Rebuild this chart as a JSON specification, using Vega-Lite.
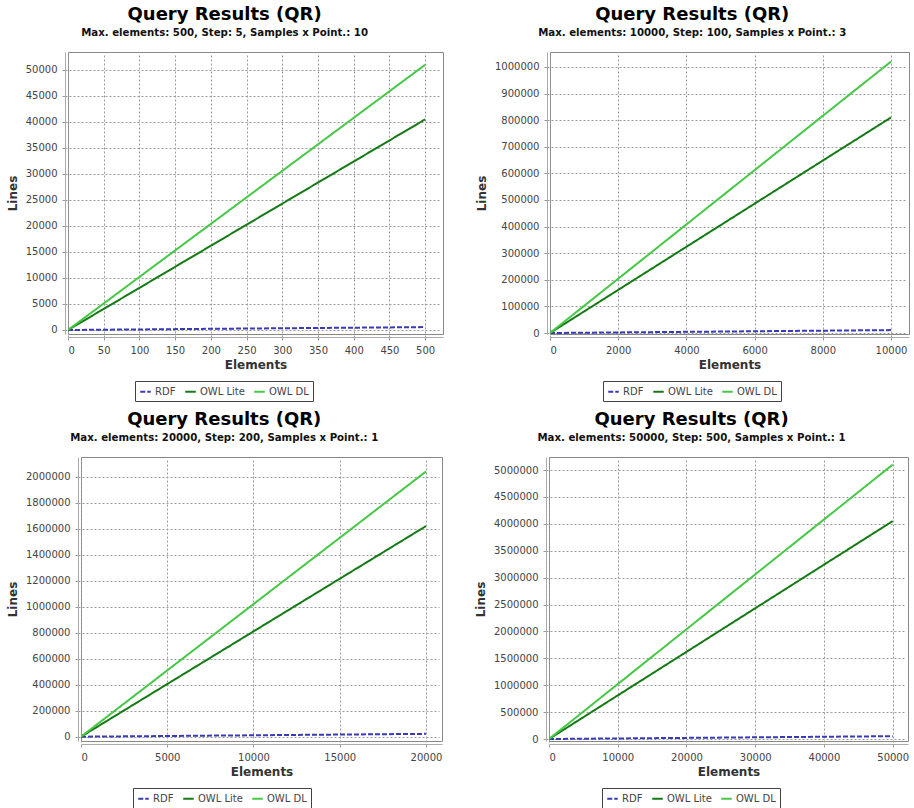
{
  "$schema": "https://vega.github.io/schema/vega-lite/v6.json",
  "padding": {"left": 5, "top": 5, "right": 4, "bottom": 0},
  "background": "white",
  "datasets": {
    "qr": [
      {"panel": 1, "elements": 0, "series": "RDF", "lines": 0},
      {"panel": 1, "elements": 100, "series": "RDF", "lines": 110},
      {"panel": 1, "elements": 200, "series": "RDF", "lines": 225},
      {"panel": 1, "elements": 300, "series": "RDF", "lines": 335},
      {"panel": 1, "elements": 400, "series": "RDF", "lines": 445},
      {"panel": 1, "elements": 500, "series": "RDF", "lines": 560},
      {"panel": 1, "elements": 0, "series": "OWL Lite", "lines": 0},
      {"panel": 1, "elements": 100, "series": "OWL Lite", "lines": 8100},
      {"panel": 1, "elements": 200, "series": "OWL Lite", "lines": 16200},
      {"panel": 1, "elements": 300, "series": "OWL Lite", "lines": 24300},
      {"panel": 1, "elements": 400, "series": "OWL Lite", "lines": 32400},
      {"panel": 1, "elements": 500, "series": "OWL Lite", "lines": 40500},
      {"panel": 1, "elements": 0, "series": "OWL DL", "lines": 0},
      {"panel": 1, "elements": 100, "series": "OWL DL", "lines": 10200},
      {"panel": 1, "elements": 200, "series": "OWL DL", "lines": 20400},
      {"panel": 1, "elements": 300, "series": "OWL DL", "lines": 30600},
      {"panel": 1, "elements": 400, "series": "OWL DL", "lines": 40800},
      {"panel": 1, "elements": 500, "series": "OWL DL", "lines": 51000},
      {"panel": 2, "elements": 0, "series": "RDF", "lines": 0},
      {"panel": 2, "elements": 2000, "series": "RDF", "lines": 2200},
      {"panel": 2, "elements": 4000, "series": "RDF", "lines": 4400},
      {"panel": 2, "elements": 6000, "series": "RDF", "lines": 6600},
      {"panel": 2, "elements": 8000, "series": "RDF", "lines": 8800},
      {"panel": 2, "elements": 10000, "series": "RDF", "lines": 11000},
      {"panel": 2, "elements": 0, "series": "OWL Lite", "lines": 0},
      {"panel": 2, "elements": 2000, "series": "OWL Lite", "lines": 162000},
      {"panel": 2, "elements": 4000, "series": "OWL Lite", "lines": 324000},
      {"panel": 2, "elements": 6000, "series": "OWL Lite", "lines": 486000},
      {"panel": 2, "elements": 8000, "series": "OWL Lite", "lines": 648000},
      {"panel": 2, "elements": 10000, "series": "OWL Lite", "lines": 810000},
      {"panel": 2, "elements": 0, "series": "OWL DL", "lines": 0},
      {"panel": 2, "elements": 2000, "series": "OWL DL", "lines": 204000},
      {"panel": 2, "elements": 4000, "series": "OWL DL", "lines": 408000},
      {"panel": 2, "elements": 6000, "series": "OWL DL", "lines": 612000},
      {"panel": 2, "elements": 8000, "series": "OWL DL", "lines": 816000},
      {"panel": 2, "elements": 10000, "series": "OWL DL", "lines": 1020000},
      {"panel": 3, "elements": 0, "series": "RDF", "lines": 0},
      {"panel": 3, "elements": 4000, "series": "RDF", "lines": 4400},
      {"panel": 3, "elements": 8000, "series": "RDF", "lines": 8800},
      {"panel": 3, "elements": 12000, "series": "RDF", "lines": 13200},
      {"panel": 3, "elements": 16000, "series": "RDF", "lines": 17600},
      {"panel": 3, "elements": 20000, "series": "RDF", "lines": 22000},
      {"panel": 3, "elements": 0, "series": "OWL Lite", "lines": 0},
      {"panel": 3, "elements": 4000, "series": "OWL Lite", "lines": 324000},
      {"panel": 3, "elements": 8000, "series": "OWL Lite", "lines": 648000},
      {"panel": 3, "elements": 12000, "series": "OWL Lite", "lines": 972000},
      {"panel": 3, "elements": 16000, "series": "OWL Lite", "lines": 1296000},
      {"panel": 3, "elements": 20000, "series": "OWL Lite", "lines": 1620000},
      {"panel": 3, "elements": 0, "series": "OWL DL", "lines": 0},
      {"panel": 3, "elements": 4000, "series": "OWL DL", "lines": 408000},
      {"panel": 3, "elements": 8000, "series": "OWL DL", "lines": 816000},
      {"panel": 3, "elements": 12000, "series": "OWL DL", "lines": 1224000},
      {"panel": 3, "elements": 16000, "series": "OWL DL", "lines": 1632000},
      {"panel": 3, "elements": 20000, "series": "OWL DL", "lines": 2040000},
      {"panel": 4, "elements": 0, "series": "RDF", "lines": 0},
      {"panel": 4, "elements": 10000, "series": "RDF", "lines": 10500},
      {"panel": 4, "elements": 20000, "series": "RDF", "lines": 21000},
      {"panel": 4, "elements": 30000, "series": "RDF", "lines": 31500},
      {"panel": 4, "elements": 40000, "series": "RDF", "lines": 42000},
      {"panel": 4, "elements": 50000, "series": "RDF", "lines": 52500},
      {"panel": 4, "elements": 0, "series": "OWL Lite", "lines": 0},
      {"panel": 4, "elements": 10000, "series": "OWL Lite", "lines": 810000},
      {"panel": 4, "elements": 20000, "series": "OWL Lite", "lines": 1620000},
      {"panel": 4, "elements": 30000, "series": "OWL Lite", "lines": 2430000},
      {"panel": 4, "elements": 40000, "series": "OWL Lite", "lines": 3240000},
      {"panel": 4, "elements": 50000, "series": "OWL Lite", "lines": 4050000},
      {"panel": 4, "elements": 0, "series": "OWL DL", "lines": 0},
      {"panel": 4, "elements": 10000, "series": "OWL DL", "lines": 1020000},
      {"panel": 4, "elements": 20000, "series": "OWL DL", "lines": 2040000},
      {"panel": 4, "elements": 30000, "series": "OWL DL", "lines": 3060000},
      {"panel": 4, "elements": 40000, "series": "OWL DL", "lines": 4080000},
      {"panel": 4, "elements": 50000, "series": "OWL DL", "lines": 5100000}
    ]
  },
  "spacing": 8,
  "resolve": {
    "scale": {"x": "independent", "y": "independent", "color": "independent", "strokeDash": "independent"},
    "legend": {"color": "independent", "strokeDash": "independent"}
  },
  "vconcat": [
    {
      "spacing": -20,
      "resolve": {
        "scale": {"x": "independent", "y": "independent", "color": "independent", "strokeDash": "independent"},
        "legend": {"color": "independent", "strokeDash": "independent"}
      },
      "hconcat": [
        {"width": 0, "height": 0, "data": {"values": []}, "mark": "point", "view": {"stroke": null, "fill": null}},
        {
          "spacing": 30,
          "resolve": {
            "scale": {"x": "independent", "y": "independent", "color": "independent", "strokeDash": "independent"},
            "legend": {"color": "independent", "strokeDash": "independent"}
          },
          "hconcat": [
            {
              "width": 375, "height": 282,
              "title": {"text": "Query Results (QR)", "subtitle": "Max. elements: 500, Step: 5, Samples x Point.: 10"},
              "data": {"name": "qr"},
              "transform": [{"filter": "datum.panel == 1"}],
              "mark": {"type": "line", "strokeWidth": 2, "clip": true},
              "encoding": {
                "x": {"field": "elements", "type": "quantitative", "title": "Elements",
                      "scale": {"domain": [0, 525], "nice": false, "zero": false},
                      "axis": {"values": [0, 50, 100, 150, 200, 250, 300, 350, 400, 450, 500], "format": "d"}},
                "y": {"field": "lines", "type": "quantitative", "title": "Lines",
                      "scale": {"domain": [-770, 53460], "nice": false, "zero": false},
                      "axis": {"values": [0, 5000, 10000, 15000, 20000, 25000, 30000, 35000, 40000, 45000, 50000], "format": "d"}},
                "color": {"field": "series", "type": "nominal",
                          "scale": {"domain": ["RDF", "OWL Lite", "OWL DL"], "range": ["#3a3ab4", "#157a15", "#46c846"]},
                          "legend": {"orient": "none", "legendX": 67, "legendY": 329}},
                "strokeDash": {"field": "series", "type": "nominal",
                          "scale": {"domain": ["RDF", "OWL Lite", "OWL DL"], "range": [[5, 2], [1, 0], [1, 0]]},
                          "legend": {"orient": "none", "legendX": 67, "legendY": 329}}
              }
            },
            {
              "width": 359, "height": 282,
              "title": {"text": "Query Results (QR)", "subtitle": "Max. elements: 10000, Step: 100, Samples x Point.: 3"},
              "data": {"name": "qr"},
              "transform": [{"filter": "datum.panel == 2"}],
              "mark": {"type": "line", "strokeWidth": 2, "clip": true},
              "encoding": {
                "x": {"field": "elements", "type": "quantitative", "title": "Elements",
                      "scale": {"domain": [0, 10528], "nice": false, "zero": false},
                      "axis": {"values": [0, 2000, 4000, 6000, 8000, 10000], "format": "d"}},
                "y": {"field": "lines", "type": "quantitative", "title": "Lines",
                      "scale": {"domain": [-3700, 1056000], "nice": false, "zero": false},
                      "axis": {"values": [0, 100000, 200000, 300000, 400000, 500000, 600000, 700000, 800000, 900000, 1000000], "format": "d"}},
                "color": {"field": "series", "type": "nominal",
                          "scale": {"domain": ["RDF", "OWL Lite", "OWL DL"], "range": ["#3a3ab4", "#157a15", "#46c846"]},
                          "legend": {"orient": "none", "legendX": 53, "legendY": 329}},
                "strokeDash": {"field": "series", "type": "nominal",
                          "scale": {"domain": ["RDF", "OWL Lite", "OWL DL"], "range": [[5, 2], [1, 0], [1, 0]]},
                          "legend": {"orient": "none", "legendX": 53, "legendY": 329}}
              }
            }
          ]
        }
      ]
    },
    {
      "spacing": -20,
      "resolve": {
        "scale": {"x": "independent", "y": "independent", "color": "independent", "strokeDash": "independent"},
        "legend": {"color": "independent", "strokeDash": "independent"}
      },
      "hconcat": [
        {"width": 0, "height": 0, "data": {"values": []}, "mark": "point", "view": {"stroke": null, "fill": null}},
        {
          "spacing": 30,
          "resolve": {
            "scale": {"x": "independent", "y": "independent", "color": "independent", "strokeDash": "independent"},
            "legend": {"color": "independent", "strokeDash": "independent"}
          },
          "hconcat": [
            {
              "width": 361, "height": 284,
              "title": {"text": "Query Results (QR)", "subtitle": "Max. elements: 20000, Step: 200, Samples x Point.: 1"},
              "data": {"name": "qr"},
              "transform": [{"filter": "datum.panel == 3"}],
              "mark": {"type": "line", "strokeWidth": 2, "clip": true},
              "encoding": {
                "x": {"field": "elements", "type": "quantitative", "title": "Elements",
                      "scale": {"domain": [0, 20928], "nice": false, "zero": false},
                      "axis": {"values": [0, 5000, 10000, 15000, 20000], "format": "d"}},
                "y": {"field": "lines", "type": "quantitative", "title": "Lines",
                      "scale": {"domain": [-33000, 2151500], "nice": false, "zero": false},
                      "axis": {"values": [0, 200000, 400000, 600000, 800000, 1000000, 1200000, 1400000, 1600000, 1800000, 2000000], "format": "d"}},
                "color": {"field": "series", "type": "nominal",
                          "scale": {"domain": ["RDF", "OWL Lite", "OWL DL"], "range": ["#3a3ab4", "#157a15", "#46c846"]},
                          "legend": {"orient": "none", "legendX": 52, "legendY": 331}},
                "strokeDash": {"field": "series", "type": "nominal",
                          "scale": {"domain": ["RDF", "OWL Lite", "OWL DL"], "range": [[5, 2], [1, 0], [1, 0]]},
                          "legend": {"orient": "none", "legendX": 52, "legendY": 331}}
              }
            },
            {
              "width": 359, "height": 284,
              "title": {"text": "Query Results (QR)", "subtitle": "Max. elements: 50000, Step: 500, Samples x Point.: 1"},
              "data": {"name": "qr"},
              "transform": [{"filter": "datum.panel == 4"}],
              "mark": {"type": "line", "strokeWidth": 2, "clip": true},
              "encoding": {
                "x": {"field": "elements", "type": "quantitative", "title": "Elements",
                      "scale": {"domain": [0, 52230], "nice": false, "zero": false},
                      "axis": {"values": [0, 10000, 20000, 30000, 40000, 50000], "format": "d"}},
                "y": {"field": "lines", "type": "quantitative", "title": "Lines",
                      "scale": {"domain": [-37000, 5242000], "nice": false, "zero": false},
                      "axis": {"values": [0, 500000, 1000000, 1500000, 2000000, 2500000, 3000000, 3500000, 4000000, 4500000, 5000000], "format": "d"}},
                "color": {"field": "series", "type": "nominal",
                          "scale": {"domain": ["RDF", "OWL Lite", "OWL DL"], "range": ["#3a3ab4", "#157a15", "#46c846"]},
                          "legend": {"orient": "none", "legendX": 53, "legendY": 331}},
                "strokeDash": {"field": "series", "type": "nominal",
                          "scale": {"domain": ["RDF", "OWL Lite", "OWL DL"], "range": [[5, 2], [1, 0], [1, 0]]},
                          "legend": {"orient": "none", "legendX": 53, "legendY": 331}}
              }
            }
          ]
        }
      ]
    }
  ],
  "config": {
    "font": "DejaVu Sans",
    "view": {"stroke": "#888888", "strokeWidth": 1, "fill": "white"},
    "title": {"font": "DejaVu Sans", "fontSize": 18, "fontWeight": "bold", "color": "#000000",
              "subtitleFont": "DejaVu Sans", "subtitleFontSize": 10.2, "subtitleFontWeight": "bold", "subtitleColor": "#111111",
              "subtitlePadding": 4, "offset": 14, "anchor": "middle", "frame": "bounds"},
    "axis": {"labelFont": "DejaVu Sans", "labelFontSize": 10, "labelColor": "#444444",
             "titleFont": "DejaVu Sans", "titleFontSize": 12, "titleFontWeight": "bold", "titleColor": "#333333",
             "domainColor": "#aaaaaa", "offset": 3, "tickColor": "#999999", "tickSize": 3,
             "gridColor": "#9a9a9a", "gridDash": [2, 2], "gridWidth": 1, "labelPadding": 5},
    "axisY": {"titlePadding": 6},
    "axisX": {"titlePadding": 4},
    "legend": {"direction": "horizontal", "title": null, "strokeColor": "#444444", "fillColor": "white",
               "padding": 4, "symbolType": "stroke", "symbolStrokeWidth": 2, "symbolSize": 110,
               "labelFont": "DejaVu Sans", "labelFontSize": 10, "labelColor": "#444444",
               "columnPadding": 5, "labelOffset": 3, "cornerRadius": 0}
  }
}
